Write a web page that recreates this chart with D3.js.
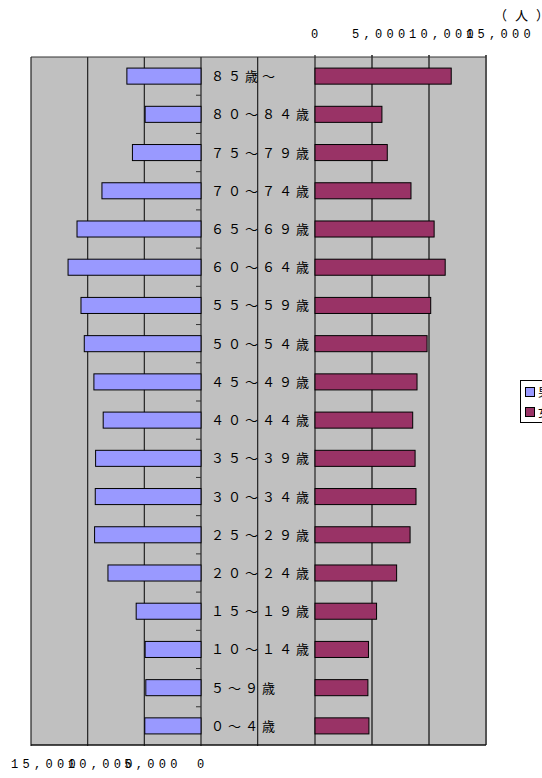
<!DOCTYPE html>
<html>
<head>
<meta charset="utf-8">
<script src="https://cdn.jsdelivr.net/npm/d3@7"></script>
<style>
  body { margin: 0; background: #ffffff; }
  svg { display: block; }
</style>
</head>
<body>
<div id="chartArea"></div>
<script>
// age groups, top to bottom
var ageLabels = ["８５歳～", "８０～８４歳", "７５～７９歳", "７０～７４歳", "６５～６９歳", "６０～６４歳",
                 "５５～５９歳", "５０～５４歳", "４５～４９歳", "４０～４４歳", "３５～３９歳", "３０～３４歳",
                 "２５～２９歳", "２０～２４歳", "１５～１９歳", "１０～１４歳", "５～９歳", "０～４歳"];
var male   = [6540, 4930, 6050, 8740, 10940, 11730, 10590, 10300, 9450, 8630, 9300, 9330,
              9390, 8210, 5720, 4930, 4870, 4960];
var female = [11950, 5870, 6340, 8420, 10450, 11420, 10150, 9830, 8950, 8570, 8780, 8860,
              8340, 7160, 5400, 4690, 4640, 4730];
var tickValues = [0, 5000, 10000, 15000];
var legendNames = ["男", "女"];
var unitLabel = "（人）";

var width = 542, height = 778;
var plot = {top: 57, bottom: 745, left: 31, right: 486};

var svg = d3.select('#chartArea').append('svg')
    .attr('width', width)
    .attr('height', height);

// male axis runs right-to-left, female left-to-right
var xLeft = d3.scaleLinear().domain([0, 15000]).range([201, 31]);
var xRight = d3.scaleLinear().domain([0, 15000]).range([315, 486]);
var yscale = d3.scaleBand().domain(ageLabels)
    .range([plot.top, plot.bottom])
    .paddingInner(0.58).paddingOuter(0.29);
var step = yscale.step();

// gray plot background
svg.append('rect')
    .attr('x', plot.left).attr('y', plot.top)
    .attr('width', plot.right - plot.left)
    .attr('height', plot.bottom - plot.top)
    .attr('fill', '#c0c0c0');

// gridlines (left chart dark, right chart gray)
var leftGrid = tickValues.concat([-5000]);
svg.append('g').selectAll('line').data(leftGrid).enter().append('line')
    .attr('x1', function(d){ return xLeft(d); })
    .attr('x2', function(d){ return xLeft(d); })
    .attr('y1', plot.top).attr('y2', plot.bottom + 1)
    .attr('stroke', '#222').attr('stroke-width', 1.2);
svg.append('g').selectAll('line').data(tickValues).enter().append('line')
    .attr('x1', function(d){ return xRight(d); })
    .attr('x2', function(d){ return xRight(d); })
    .attr('y1', plot.top - 2).attr('y2', plot.bottom)
    .attr('stroke', function(d){ return d === 0 ? '#222' : '#555'; })
    .attr('stroke-width', function(d){ return d === 0 ? 1.2 : 2; });

// top & bottom border
svg.append('line')
    .attr('x1', plot.left).attr('x2', plot.right)
    .attr('y1', plot.top).attr('y2', plot.top)
    .attr('stroke', '#333').attr('stroke-width', 1.2);
svg.append('line')
    .attr('x1', plot.left).attr('x2', plot.right)
    .attr('y1', plot.bottom).attr('y2', plot.bottom)
    .attr('stroke', '#111').attr('stroke-width', 1.5);

// category tick marks on the male axis
svg.append('g').selectAll('line').data(ageLabels.slice(1)).enter().append('line')
    .attr('x1', xLeft(0) - 5).attr('x2', xLeft(0))
    .attr('y1', function(d){ return yscale(d) - (step - yscale.bandwidth()) / 2; })
    .attr('y2', function(d){ return yscale(d) - (step - yscale.bandwidth()) / 2; })
    .attr('stroke', '#333').attr('stroke-width', 1);

// male bars
svg.append('g').selectAll('rect').data(male).enter().append('rect')
    .attr('x', function(d){ return xLeft(d); })
    .attr('y', function(d, i){ return yscale(ageLabels[i]); })
    .attr('width', function(d){ return xLeft(0) - xLeft(d); })
    .attr('height', yscale.bandwidth())
    .attr('fill', '#9999ff')
    .attr('stroke', '#000').attr('stroke-width', 1);

// female bars
svg.append('g').selectAll('rect').data(female).enter().append('rect')
    .attr('x', xRight(0))
    .attr('y', function(d, i){ return yscale(ageLabels[i]); })
    .attr('width', function(d){ return xRight(d) - xRight(0); })
    .attr('height', yscale.bandwidth())
    .attr('fill', '#993366')
    .attr('stroke', '#000').attr('stroke-width', 1);

// age labels in the middle column
svg.append('g').selectAll('text').data(ageLabels).enter().append('text')
    .attr('x', 211)
    .attr('y', function(d){ return yscale(d) + yscale.bandwidth() / 2 + 5; })
    .style('font-family', '"Noto Sans CJK JP", sans-serif')
    .style('font-size', '13px')
    .style('letter-spacing', '4px')
    .attr('fill', '#000')
    .text(function(d){ return d; });

// value tick labels (wide spaced, like the original)
var fmt = d3.format(',');
function tickLabels(scale, y) {
    svg.append('g').selectAll('text').data(tickValues).enter().append('text')
        .attr('x', function(d){ return d === 0 ? scale(d) - 4 : scale(d) - 20; })
        .attr('y', y)
        .style('font-family', '"Liberation Mono", monospace')
        .style('font-size', '12px')
        .style('letter-spacing', '4.3px')
        .attr('fill', '#000')
        .text(function(d){ return fmt(d); });
}
tickLabels(xRight, 38);
tickLabels(xLeft, 768);

// unit label
svg.append('text')
    .attr('x', 494).attr('y', 20)
    .style('font-family', '"Noto Sans CJK JP", sans-serif')
    .style('font-size', '13px')
    .style('letter-spacing', '8px')
    .text(unitLabel);

// legend (runs off the right edge)
var legend = svg.append('g');
legend.append('rect')
    .attr('x', 520.5).attr('y', 380.5)
    .attr('width', 40).attr('height', 42)
    .attr('fill', '#fff').attr('stroke', '#000').attr('stroke-width', 1);
var legendColors = ['#9999ff', '#993366'];
legendNames.forEach(function(name, i) {
    legend.append('rect')
        .attr('x', 525.5).attr('y', 387.5 + i * 20)
        .attr('width', 9).attr('height', 9)
        .attr('fill', legendColors[i])
        .attr('stroke', '#000').attr('stroke-width', 1);
    legend.append('text')
        .attr('x', 538).attr('y', 397 + i * 20)
        .style('font-family', '"Noto Sans CJK JP", sans-serif')
        .style('font-size', '12px')
        .text(name);
});
</script>
</body>
</html>
